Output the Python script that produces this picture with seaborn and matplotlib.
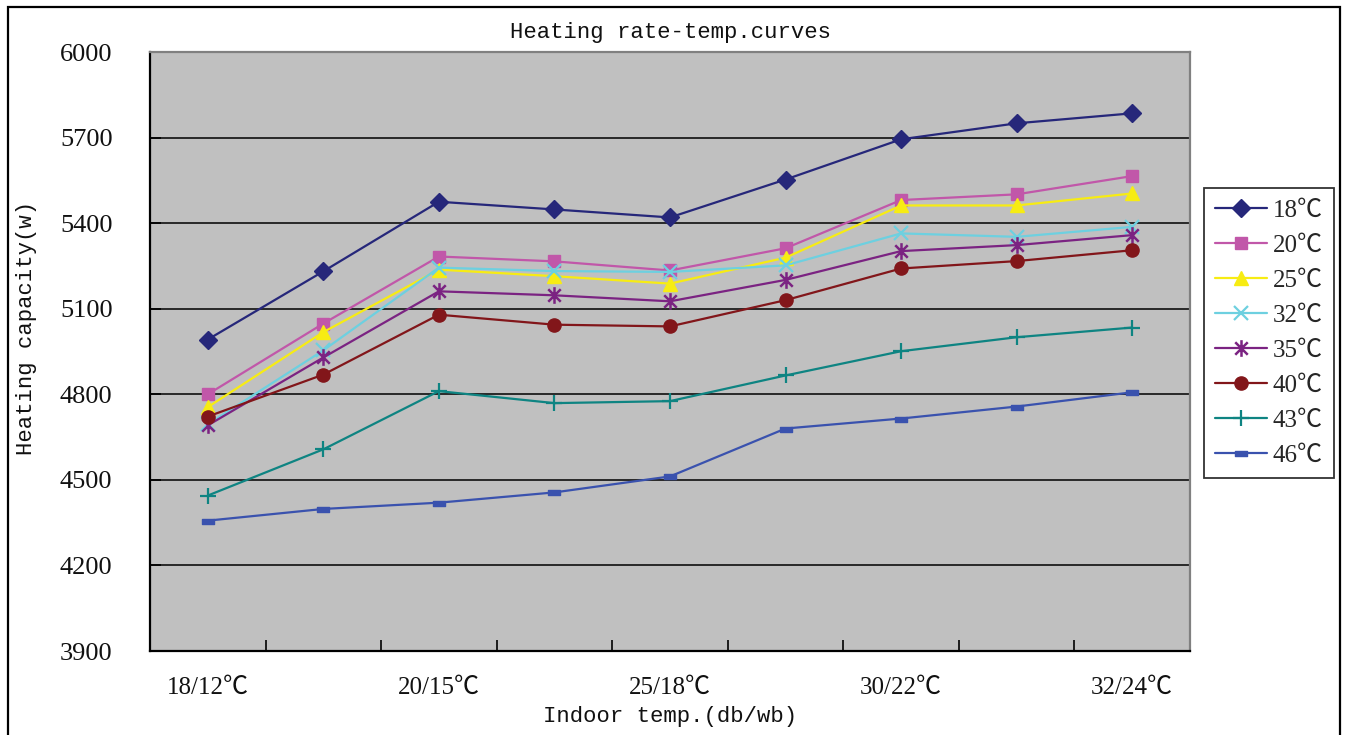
import numpy as np
import pandas as pd
import matplotlib.pyplot as plt
import matplotlib.patches as patches
from matplotlib.path import Path
import seaborn as sns

# x axis: 9 indoor conditions, Excel only prints every other label
indoor_labels = ['18/12℃', '20/15℃', '25/18℃', '30/22℃', '32/24℃']
positions = list(range(9))

outdoor = ['18℃', '20℃', '25℃', '32℃', '35℃', '40℃', '43℃', '46℃']
cap_18 = [4992, 5231, 5475, 5448, 5420, 5553, 5694, 5750, 5785]
cap_20 = [4800, 5048, 5283, 5266, 5234, 5312, 5481, 5501, 5565]
cap_25 = [4755, 5018, 5237, 5214, 5188, 5279, 5462, 5462, 5504]
cap_32 = [4695, 4954, 5244, 5232, 5229, 5252, 5364, 5352, 5387]
cap_35 = [4691, 4929, 5161, 5147, 5126, 5201, 5302, 5323, 5358]
cap_40 = [4722, 4869, 5079, 5044, 5038, 5130, 5241, 5267, 5305]
cap_43 = [4445, 4607, 4811, 4769, 4776, 4866, 4951, 5000, 5034]
cap_46 = [4357, 4398, 4420, 4456, 4512, 4680, 4715, 4757, 4807]
series = [cap_18, cap_20, cap_25, cap_32, cap_35, cap_40, cap_43, cap_46]

df = pd.concat([
    pd.DataFrame({'pos': positions, 'capacity': vals, 'outdoor': name})
    for name, vals in zip(outdoor, series)
])

colors = ['#26277A', '#C157A9', '#F7EC13', '#6DD0E0',
          '#7B2382', '#82161A', '#0E8482', '#3A52AE']

# excel style markers
star = Path([(0, -1), (0, 1), (-0.75, -0.75), (0.75, 0.75), (-0.75, 0.75), (0.75, -0.75)],
            [Path.MOVETO, Path.LINETO] * 3)
dash = Path([(-1, -0.45), (1, -0.45), (1, 0.45), (-1, 0.45), (-1, -0.45)],
            [Path.MOVETO] + [Path.LINETO] * 3 + [Path.CLOSEPOLY])
markers = ['D', 's', '^', 'x', star, 'o', '+', dash]
msizes = [9, 8.5, 10, 10, 12, 9.5, 12, 8]
mews = [1, 1, 1, 1.6, 1.8, 1, 1.6, 1]

sns.set_theme(style='white')
plt.rcParams['font.family'] = ['Liberation Serif', 'Noto Sans CJK SC']
mono = ['Liberation Mono', 'Noto Sans CJK SC']

fig = plt.figure(figsize=(13.45, 7.35), dpi=100)
ax = fig.add_axes([150 / 1345, 84 / 735, 1040 / 1345, 599 / 735])
ax.set_facecolor('#C0C0C0')

for name, c, m, ms, mew in zip(outdoor, colors, markers, msizes, mews):
    sns.lineplot(data=df[df['outdoor'] == name], x='pos', y='capacity', ax=ax,
                 color=c, lw=1.6, marker=m, markersize=ms,
                 markeredgecolor=c, markerfacecolor=c, markeredgewidth=mew,
                 label=name)

ax.set_ylim(3900, 6000)
ax.set_yticks(range(3900, 6001, 300))
ax.yaxis.grid(True, color='black', lw=1.1)
ax.xaxis.grid(False)
ax.set_axisbelow(True)

ax.set_xlim(-0.5, 8.5)
ax.set_xticks(positions[::2], labels=indoor_labels)
ax.set_xticks(np.arange(-0.5, 9, 1), minor=True)
ax.tick_params(axis='x', which='major', length=0, pad=19, labelsize=18, labelcolor='#111111')
ax.tick_params(axis='x', which='minor', direction='in', length=8, width=1.2, color='black', bottom=True)
ax.tick_params(axis='y', direction='in', length=8, width=1.2, color='black', left=True,
               pad=27, labelsize=19, labelcolor='#111111')

for s in ['left', 'bottom']:
    ax.spines[s].set_color('black')
    ax.spines[s].set_linewidth(1.6)
for s in ['top', 'right']:
    ax.spines[s].set_color('#808080')
    ax.spines[s].set_linewidth(1.6)

ax.set_title('Heating rate-temp.curves', family=mono, fontsize=16, pad=10, color='#111111')
ax.set_xlabel('Indoor temp.(db/wb)', family=mono, fontsize=16, labelpad=5, color='#111111')
ax.set_ylabel('Heating capacity(w)', family=mono, fontsize=16, color='#111111')
ax.yaxis.set_label_coords(-0.109, 0.54)

leg = ax.legend(loc='upper left', bbox_to_anchor=(1204 / 1345, 1 - 188 / 735),
                bbox_transform=fig.transFigure, frameon=True, fancybox=False,
                fontsize=18, handlelength=2.05, labelspacing=0.5, borderpad=0.45,
                handletextpad=0.25, borderaxespad=0)
leg.get_frame().set_edgecolor('black')
leg.get_frame().set_linewidth(1.3)

# outer chart border
fig.patches.append(patches.Rectangle((8 / 1345, -0.02), 1332 / 1345, 1.02 - 7 / 735,
                                     transform=fig.transFigure, fill=False,
                                     edgecolor='black', lw=1.6))

fig.savefig('out.png', dpi=100)
